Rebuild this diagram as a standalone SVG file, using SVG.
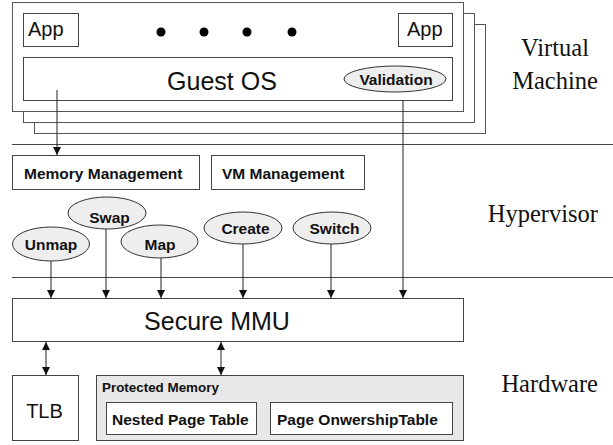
<svg xmlns="http://www.w3.org/2000/svg" width="613" height="445" viewBox="0 0 613 445">
  <style>
    .box { fill: #ffffff; stroke: #444444; stroke-width: 1; }
    .frame { fill: #ffffff; stroke: #555555; stroke-width: 1; }
    .oval { fill: #eeeeee; stroke: #333333; stroke-width: 1; }
    .sep { stroke: #444444; stroke-width: 1; fill: none; }
    .wire { stroke: #222222; stroke-width: 1; fill: none; }
    .big { font-family: "Liberation Sans", Arial, sans-serif; font-size: 25px; fill: #111111; }
    .mid { font-family: "Liberation Sans", Arial, sans-serif; font-size: 20px; fill: #111111; }
    .bold { font-family: "Liberation Sans", Arial, sans-serif; font-size: 15.5px; font-weight: bold; fill: #111111; }
    .small { font-family: "Liberation Sans", Arial, sans-serif; font-size: 13.4px; font-weight: bold; fill: #111111; }
    .layer { font-family: "Liberation Serif", "Times New Roman", serif; font-size: 24.5px; fill: #111111; }
  </style>
  <defs>
    <marker id="arrow" viewBox="0 0 10 10" refX="10" refY="5" markerWidth="8" markerHeight="9" markerUnits="userSpaceOnUse" orient="auto-start-reverse">
      <path d="M0,0 L10,5 L0,10 z" fill="#111111"/>
    </marker>
  </defs>

  <!-- layer separators -->
  <g id="separators">
    <line class="sep" x1="12" y1="144.5" x2="613" y2="144.5"/>
    <line class="sep" x1="12" y1="277.5" x2="613" y2="277.5"/>
  </g>

  <!-- stacked virtual machines -->
  <g id="vm-stack">
    <rect class="frame" x="34.5" y="24.5" width="451" height="109"/>
    <rect class="frame" x="23.5" y="13.5" width="451" height="109"/>
    <rect class="frame" x="12.5" y="2.5" width="451" height="109"/>
  </g>

  <g id="app-left">
    <rect class="box" x="23.5" y="13.5" width="55" height="33"/>
    <text class="mid" x="28" y="36">App</text>
  </g>
  <g id="app-right">
    <rect class="box" x="398.5" y="13.5" width="54" height="33"/>
    <text class="mid" x="407" y="36">App</text>
  </g>
  <g id="ellipsis">
    <circle cx="161" cy="32" r="4.5" fill="#000000"/>
    <circle cx="204" cy="32" r="4.5" fill="#000000"/>
    <circle cx="247" cy="32" r="4.5" fill="#000000"/>
    <circle cx="292" cy="32" r="4.5" fill="#000000"/>
  </g>
  <g id="guest-os">
    <rect class="box" x="23.5" y="57.5" width="429" height="43"/>
    <text class="big" x="222" y="90" text-anchor="middle">Guest OS</text>
  </g>
  <g id="validation">
    <ellipse class="oval" cx="395" cy="79" rx="51" ry="13"/>
    <text class="bold" x="396" y="84.5" text-anchor="middle">Validation</text>
  </g>

  <!-- hypervisor -->
  <g id="memory-management">
    <rect class="box" x="12.5" y="155.5" width="187" height="34"/>
    <text class="bold" x="24" y="178.5">Memory Management</text>
  </g>
  <g id="vm-management">
    <rect class="box" x="211.5" y="155.5" width="153" height="34"/>
    <text class="bold" x="222" y="178.5">VM Management</text>
  </g>
  <g id="unmap">
    <ellipse class="oval" cx="51" cy="244" rx="38.5" ry="17"/>
    <text class="bold" x="51" y="249.5" text-anchor="middle">Unmap</text>
  </g>
  <g id="swap">
    <ellipse class="oval" cx="107" cy="213" rx="39" ry="16"/>
    <text class="bold" x="109.5" y="223" text-anchor="middle">Swap</text>
  </g>
  <g id="map">
    <ellipse class="oval" cx="159.5" cy="241.5" rx="38.5" ry="16.5"/>
    <text class="bold" x="160" y="250" text-anchor="middle">Map</text>
  </g>
  <g id="create">
    <ellipse class="oval" cx="243" cy="228" rx="39" ry="16"/>
    <text class="bold" x="245.5" y="233.5" text-anchor="middle">Create</text>
  </g>
  <g id="switch">
    <ellipse class="oval" cx="332" cy="228" rx="39" ry="16"/>
    <text class="bold" x="334.5" y="233.5" text-anchor="middle">Switch</text>
  </g>

  <!-- hardware -->
  <g id="secure-mmu">
    <rect class="box" x="12.5" y="298.5" width="451" height="43"/>
    <text class="big" x="217" y="330" text-anchor="middle">Secure MMU</text>
  </g>
  <g id="tlb">
    <rect class="box" x="12.5" y="375.5" width="66" height="65"/>
    <text class="mid" x="44.5" y="418" text-anchor="middle">TLB</text>
  </g>
  <g id="protected-memory">
    <rect x="96.5" y="375.5" width="367" height="65" fill="#e8e8e8" stroke="#444444" stroke-width="1"/>
    <text class="small" x="102" y="392">Protected Memory</text>
  </g>
  <g id="nested-page-table">
    <rect class="box" x="106.5" y="402.5" width="150" height="32"/>
    <text class="bold" x="112" y="424.5">Nested Page Table</text>
  </g>
  <g id="page-ownership-table">
    <rect class="box" x="270.5" y="402.5" width="182" height="32"/>
    <text class="bold" x="277" y="424.5">Page OnwershipTable</text>
  </g>

  <!-- layer names -->
  <g id="layer-labels">
    <text class="layer" x="555" y="56" text-anchor="middle">Virtual</text>
    <text class="layer" x="555" y="89" text-anchor="middle">Machine</text>
    <text class="layer" x="598" y="222" text-anchor="end">Hypervisor</text>
    <text class="layer" x="598" y="392" text-anchor="end">Hardware</text>
  </g>

  <!-- connectors -->
  <g id="connectors">
    <line class="wire" x1="57" y1="90" x2="57" y2="155" marker-end="url(#arrow)"/>
    <line class="wire" x1="403" y1="100" x2="403" y2="298" marker-end="url(#arrow)"/>
    <line class="wire" x1="51" y1="261" x2="51" y2="298" marker-end="url(#arrow)"/>
    <line class="wire" x1="106" y1="229" x2="106" y2="298" marker-end="url(#arrow)"/>
    <line class="wire" x1="161" y1="258" x2="161" y2="298" marker-end="url(#arrow)"/>
    <line class="wire" x1="243" y1="244" x2="243" y2="298" marker-end="url(#arrow)"/>
    <line class="wire" x1="331" y1="244" x2="331" y2="298" marker-end="url(#arrow)"/>
    <line class="wire" x1="46" y1="342" x2="46" y2="375" marker-start="url(#arrow)" marker-end="url(#arrow)"/>
    <line class="wire" x1="221" y1="342" x2="221" y2="375" marker-start="url(#arrow)" marker-end="url(#arrow)"/>
  </g>
</svg>
